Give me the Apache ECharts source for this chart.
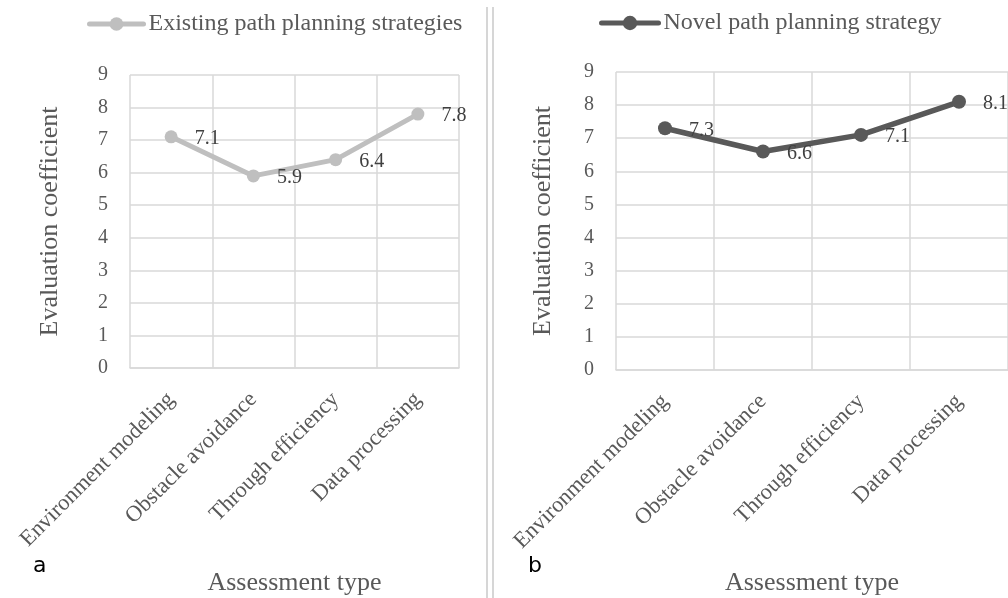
<!DOCTYPE html>
<html>
<head>
<meta charset="utf-8">
<script src="https://cdn.jsdelivr.net/npm/echarts@6/dist/echarts.min.js"></script>
<style>
  html, body { margin: 0; padding: 0; background: #fff; }
  #main { width: 1008px; height: 598px; }
</style>
</head>
<body>
<div id="main"></div>
<script>
// categories on the x axis
var categories = ['Environment modeling', 'Obstacle avoidance', 'Through efficiency', 'Data processing'];
// panel a
var existingName = 'Existing path planning strategies';
var existingValues = [7.1, 5.9, 6.4, 7.8];
// panel b
var novelName = 'Novel path planning strategy';
var novelValues = [7.3, 6.6, 7.1, 8.1];
// y ticks 0..9
var yMin = 0, yMax = 9, yStep = 1;

var serif = '"Liberation Serif", "DejaVu Serif", serif';
var gridColor = '#d9d9d9';
var textColor = '#595959';

function makeX(idx, gap) {
	return {
		type: 'category',
		gridIndex: idx,
		data: categories,
		boundaryGap: true,
		name: 'Assessment type',
		nameLocation: 'middle',
		nameGap: gap,
		nameTextStyle: { fontFamily: serif, fontSize: 26, color: textColor },
		axisLine: { show: true, lineStyle: { color: gridColor, width: 1.5 } },
		axisTick: { show: false },
		splitLine: { show: true, lineStyle: { color: gridColor, width: 1.5 } },
		axisLabel: {
			rotate: 45,
			margin: 28,
			interval: 0,
			fontFamily: serif,
			fontSize: 22.5,
			color: textColor
		}
	};
}

function makeY(idx, gap) {
	return {
		type: 'value',
		gridIndex: idx,
		min: yMin,
		max: yMax,
		interval: yStep,
		name: 'Evaluation coefficient',
		nameLocation: 'middle',
		nameGap: gap,
		nameTextStyle: { fontFamily: serif, fontSize: 26, color: textColor },
		axisLine: { show: false },
		axisTick: { show: false },
		splitLine: { show: true, lineStyle: { color: gridColor, width: 1.5 } },
		axisLabel: { margin: 22, fontFamily: serif, fontSize: 20, color: textColor }
	};
}

function makeSeries(name, values, idx, color, size, width) {
	return {
		name: name,
		type: 'line',
		xAxisIndex: idx,
		yAxisIndex: idx,
		data: values,
		symbol: 'circle',
		symbolSize: size,
		itemStyle: { color: color },
		lineStyle: { color: color, width: width, cap: 'round' },
		label: {
			show: true,
			position: 'right',
			distance: 17,
			offset: [0, 2],
			fontFamily: serif,
			fontSize: 20,
			color: '#404040'
		},
		animation: false
	};
}

var myChart = echarts.init(document.getElementById('main'));
var option = {
	backgroundColor: '#fff',
	animation: false,
	legend: [{
		data: [existingName],
		left: 82,
		top: 7,
		itemWidth: 54,
		itemHeight: 17,
		itemGap: 4,
		lineStyle: { width: 5, cap: 'round' },
		textStyle: { fontFamily: serif, fontSize: 24, color: textColor }
	}, {
		data: [novelName],
		left: 594,
		top: 6,
		itemWidth: 57,
		itemHeight: 18,
		lineStyle: { width: 5, cap: 'round' },
		textStyle: { fontFamily: serif, fontSize: 24, color: textColor }
	}],
	grid: [
		{ left: 130, top: 75, width: 329, height: 293 },
		{ left: 616, top: 72, width: 393, height: 298 }
	],
	xAxis: [makeX(0, 202), makeX(1, 200)],
	yAxis: [makeY(0, 67), makeY(1, 60)],
	series: [
		makeSeries(existingName, existingValues, 0, '#bfbfbf', 13, 5),
		makeSeries(novelName, novelValues, 1, '#595959', 14, 5.5)
	],
	graphic: [
		{ type: 'line', shape: { x1: 487, y1: 7, x2: 487, y2: 598 }, style: { stroke: '#d6d6d6', lineWidth: 2 } },
		{ type: 'line', shape: { x1: 493, y1: 7, x2: 493, y2: 598 }, style: { stroke: '#d6d6d6', lineWidth: 2 } },
		{ type: 'text', left: 33, top: 555, style: { text: 'a', font: '22px "DejaVu Sans", sans-serif', fill: '#000' } },
		{ type: 'text', left: 528, top: 555, style: { text: 'b', font: '22px "DejaVu Sans", sans-serif', fill: '#000' } }
	]
};
myChart.setOption(option);
window.addEventListener('resize', function () {
	myChart.resize();
});
</script>
</body>
</html>
